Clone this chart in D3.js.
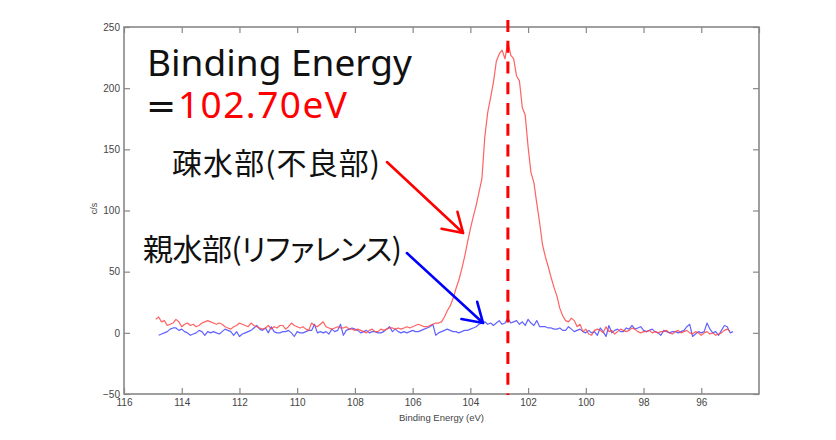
<!DOCTYPE html>
<html><head><meta charset="utf-8">
<script src="https://cdn.jsdelivr.net/npm/d3@7"></script>
<style>
body{margin:0;background:#fff;}
svg{display:block;}
</style></head>
<body>
<svg id="chart" width="836" height="440"></svg>
<script>
// ---- data ----
const energies = [
114.9,114.8,114.7,114.6,114.5,114.4,114.3,114.2,114.1,114.0,
113.9,113.8,113.7,113.6,113.5,113.4,113.3,113.2,113.1,113.0,
112.9,112.8,112.7,112.6,112.5,112.4,112.3,112.2,112.1,112.0,
111.9,111.8,111.7,111.6,111.5,111.4,111.3,111.2,111.1,111.0,
110.9,110.8,110.7,110.6,110.5,110.4,110.3,110.2,110.1,110.0,
109.9,109.8,109.7,109.6,109.5,109.4,109.3,109.2,109.1,109.0,
108.9,108.8,108.7,108.6,108.5,108.4,108.3,108.2,108.1,108.0,
107.9,107.8,107.7,107.6,107.5,107.4,107.3,107.2,107.1,107.0,
106.9,106.8,106.7,106.6,106.5,106.4,106.3,106.2,106.1,106.0,
105.9,105.8,105.7,105.6,105.5,105.4,105.3,105.2,105.1,105.0,
104.9,104.8,104.7,104.6,104.5,104.4,104.3,104.2,104.1,104.0,
103.9,103.8,103.7,103.6,103.5,103.4,103.3,103.2,103.1,103.0,
102.9,102.8,102.7,102.6,102.5,102.4,102.3,102.2,102.1,102.0,
101.9,101.8,101.7,101.6,101.5,101.4,101.3,101.2,101.1,101.0,
100.9,100.8,100.7,100.6,100.5,100.4,100.3,100.2,100.1,100.0,
99.9,99.8,99.7,99.6,99.5,99.4,99.3,99.2,99.1,99.0,
98.9,98.8,98.7,98.6,98.5,98.4,98.3,98.2,98.1,98.0,
97.9,97.8,97.7,97.6,97.5,97.4,97.3,97.2,97.1,97.0,
96.9,96.8,96.7,96.6,96.5,96.4,96.3,96.2,96.1,96.0,
95.9,95.8,95.7,95.6,95.5,95.4,95.3,95.2,95.1,95.0,
94.9];

// 疎水部(不良部) — red
const hydrophobic = [
11,13,9,10,6,7,8,11,9,5,
7,8,6,7,5,6,8,9,10,9,
8,7,8,7,5,4,3,5,6,8,
7,6,5,8,6,5,4,3,4,6,
3,5,4,6,6,3,5,8,6,5,
4,5,3,2,8,6,5,7,9,5,
4,3,4,5,4,4,5,3,3,2,
3,2,1,0,2,3,1,1,3,2,
3,4,4,3,4,3,4,5,4,5,
6,7,6,5,5,6,7,8,8,9,
13,18,22,28,36,43,52,62,74,85,
95,104,115,126,160,180,192,205,222,228,
231,224,238,227,224,210,206,184,178,152,
131,123,106,90,72,62,54,45,37,30,
20,14,10,9,12,10,5,7,1,3,
-1,-2,2,3,2,0,5,1,2,-1,
1,3,2,1,2,4,3,1,0,1,
1,2,0,1,0,1,1,2,0,-1,
1,2,0,1,2,0,-1,1,0,-2,
0,1,-1,0,-2,-1,0,2,3,1,
null];

// 親水部(リファレンス) — blue
const hydrophilic = [
null,-2,-1,0,1,3,4,4,2,3,
1,0,-2,-1,0,2,1,-2,1,0,
1,0,-1,1,3,2,1,-2,1,-3,
-1,0,1,2,4,6,3,2,4,0,
5,1,0,0,1,1,2,0,-3,1,
0,0,1,2,2,7,0,1,0,1,
-1,3,1,2,7,-2,2,3,4,3,
2,0,1,2,0,1,1,0,0,1,
3,5,1,3,1,0,1,0,1,2,
1,1,2,3,4,5,7,-2,0,1,
2,3,2,1,1,0,1,2,2,3,
4,5,7,8,9,7,8,6,8,10,
7,8,12,8,9,10,7,9,6,11,
8,6,10,5,5,5,4,4,3,3,
4,2,2,5,3,1,2,3,1,0,
2,0,1,-2,4,1,-3,6,0,2,
3,1,1,4,3,6,3,4,5,2,
1,2,3,1,0,-2,2,1,0,1,
1,0,1,2,5,7,-3,-1,1,0,
1,8,3,0,1,-2,2,6,5,0,
1];

const xTicks = [116,114,112,110,108,106,104,102,100,98,96];
const xTickAll = [116,114,112,110,108,106,104,102,100,98,96,94];
const yTicks = [-50,0,50,100,150,200,250];
const xDomain = [116, 94];
const yDomain = [-50, 250];
const peakEnergy = 102.70;
const xTitle = "Binding Energy (eV)";
const yTitle = "c/s";

// ---- drawing ----
const svg = d3.select("#chart");
svg.append("rect").attr("width",836).attr("height",440).attr("fill","#fff");

const L = 124, R = 759, T = 27, B = 394;
const x = d3.scaleLinear().domain(xDomain).range([L, R]);
const y = d3.scaleLinear().domain(yDomain).range([B, T]);

const axisColor = "#888";
const labelFont = "'Liberation Sans', Arial, sans-serif";

function styleAxis(g, showLabels){
  g.select(".domain").remove();
  g.selectAll(".tick line").attr("stroke", axisColor).attr("stroke-width", 1.2);
  g.selectAll(".tick text")
    .attr("fill", "#444")
    .style("font-family", labelFont)
    .style("font-size", "10px");
  if(!showLabels) g.selectAll(".tick text").remove();
}

svg.append("g").attr("transform", `translate(0,${B})`)
  .call(d3.axisBottom(x).tickValues(xTicks).tickSize(-6).tickPadding(5).tickFormat(d3.format("d")))
  .call(g => styleAxis(g, true));
svg.append("g").attr("transform", `translate(0,${T})`)
  .call(d3.axisTop(x).tickValues(xTickAll).tickSize(-6))
  .call(g => styleAxis(g, false));
svg.append("g").attr("transform", `translate(${L},0)`)
  .call(d3.axisLeft(y).tickValues(yTicks).tickSize(-6).tickPadding(4).tickFormat(d => d < 0 ? "\u2212" + Math.abs(d) : d))
  .call(g => styleAxis(g, true));
svg.append("g").attr("transform", `translate(${R},0)`)
  .call(d3.axisRight(y).tickValues(yTicks).tickSize(-6))
  .call(g => styleAxis(g, false));

// frame
svg.append("rect").attr("x", L).attr("y", T).attr("width", R - L).attr("height", B - T)
  .attr("fill", "none").attr("stroke", axisColor).attr("stroke-width", 1.6);

// axis titles
svg.append("text").attr("x", (L + R) / 2).attr("y", 421).attr("text-anchor", "middle")
  .style("font-family", labelFont).style("font-size", "9.5px").attr("fill", "#444").text(xTitle);
svg.append("text").attr("transform", `translate(97,${(T + B) / 2 - 2}) rotate(-90)`).attr("text-anchor", "middle")
  .style("font-family", labelFont).style("font-size", "9px").attr("fill", "#444").text(yTitle);

// series
const series = [
  {values: hydrophilic, color: "rgb(70,70,255)"},
  {values: hydrophobic, color: "rgb(255,70,70)"}
];
series.forEach(s => {
  const pts = energies.map((e, i) => [e, s.values[i]]);
  const line = d3.line().defined(d => d[1] !== null && d[1] !== undefined)
    .x(d => x(d[0])).y(d => y(d[1]));
  svg.append("path").datum(pts).attr("d", line)
    .attr("fill", "none").attr("stroke", s.color).attr("stroke-width", 1.2)
    .attr("stroke-opacity", 0.85).attr("stroke-linejoin", "round");
});

// dashed peak marker
svg.append("line").attr("x1", x(peakEnergy)).attr("x2", x(peakEnergy))
  .attr("y1", 20).attr("y2", 395)
  .attr("stroke", "#ff0000").attr("stroke-width", 3).attr("stroke-dasharray", "12,8.75");

// annotations
const latinFont = "'Noto Sans', 'Noto Sans CJK JP', sans-serif";
svg.append("text").attr("x", 147).attr("y", 75.5)
  .style("font-family", latinFont).style("font-size", "37px").attr("fill", "#111")
  .text("Binding Energy");
svg.append("text").attr("x", 146).attr("y", 117.5)
  .style("font-family", "'DejaVu Sans', sans-serif").style("font-size", "36px").attr("fill", "#111")
  .text("=");
svg.append("text").attr("x", 178).attr("y", 117.5)
  .style("font-family", latinFont).style("font-size", "37px").attr("fill", "#ff0000")
  .attr("textLength", 169).attr("lengthAdjust", "spacing")
  .text(peakEnergy.toFixed(2) + "eV");

const jpFont = "'Noto Sans CJK JP', 'Noto Sans', sans-serif";
svg.append("text").attr("x", 172).attr("y", 173.5)
  .style("font-family", jpFont).style("font-size", "30px").style("font-feature-settings", "'palt'")
  .attr("fill", "#111").attr("textLength", 208).attr("lengthAdjust", "spacing")
  .text("疎水部(不良部)");
svg.append("text").attr("x", 143).attr("y", 260)
  .style("font-family", jpFont).style("font-size", "30px").style("font-feature-settings", "'palt'")
  .attr("fill", "#111").attr("textLength", 259).attr("lengthAdjust", "spacing")
  .text("親水部(リファレンス)");

function arrow(from, to, color){
  const x0 = x(from[0]), y0 = y(from[1]), x1 = x(to[0]), y1 = y(to[1]);
  const back = Math.atan2(y0 - y1, x0 - x1);
  const len = 22, half = 32 * Math.PI / 180;
  const w1 = [x1 + len * Math.cos(back - half), y1 + len * Math.sin(back - half)];
  const w2 = [x1 + len * Math.cos(back + half), y1 + len * Math.sin(back + half)];
  svg.append("path")
    .attr("d", `M${x0},${y0}L${x1},${y1}M${w1[0]},${w1[1]}L${x1},${y1}L${w2[0]},${w2[1]}`)
    .attr("fill", "none").attr("stroke", color).attr("stroke-width", 2.6)
    .attr("stroke-linecap", "round").attr("stroke-linejoin", "round");
}
arrow([106.89, 139.6], [104.25, 81.6], "#ff0000");
arrow([106.20, 65.2], [103.56, 8.0], "#0000ff");
</script>
</body></html>
